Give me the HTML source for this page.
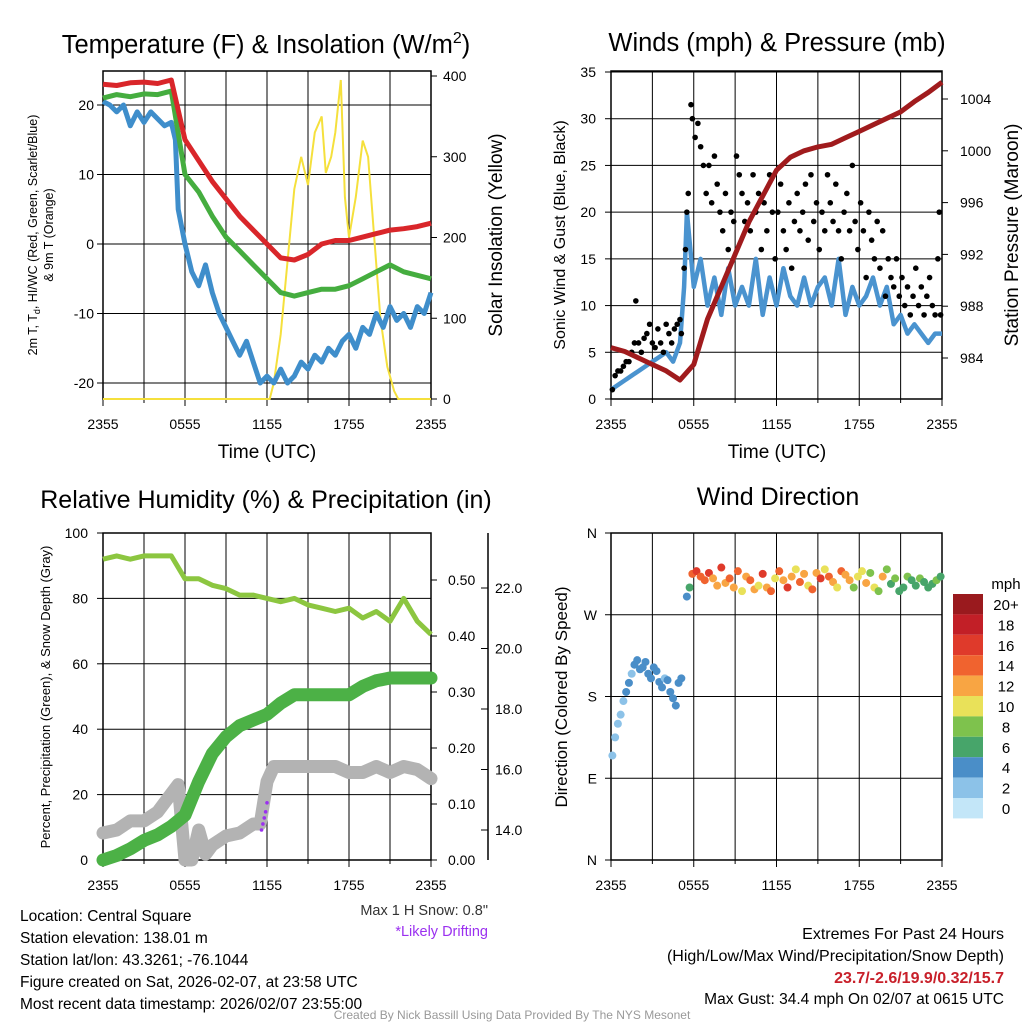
<!DOCTYPE html>
<html><head><meta charset="utf-8"><style>
body{margin:0;background:#fff;}
svg text{font-family:"Liberation Sans",Arial,sans-serif;}
</style></head><body>
<svg id="c" width="1024" height="1024" viewBox="0 0 1024 1024" xmlns="http://www.w3.org/2000/svg"></svg>
<script>
// ---------- DATA ----------
const hrs = [0,1,2,3,4,5,6,7,8,9,10,11,12,13,14,15,16,17,18,19,20,21,22,23,24];
const tempRed = [23,22.8,23.2,23.3,23.1,23.6,15,12,9,6.5,4,2,0,-2,-2.3,-1.5,0,0.5,0.5,1,1.5,2,2.2,2.5,3];
const tempGreen = [21,21.5,21.2,21.6,21.5,22,10,7.5,4,1,-1,-3,-5,-7,-7.5,-7,-6.5,-6.5,-6,-5,-4,-3,-4,-4.5,-5];
const halfHrs = [0,0.5,1,1.5,2,2.5,3,3.5,4,4.5,5,5.3,5.5,6,6.5,7,7.5,8,8.5,9,9.5,10,10.5,11,11.5,12,12.5,13,13.5,14,14.5,15,15.5,16,16.5,17,17.5,18,18.5,19,19.5,20,20.5,21,21.5,22,22.5,23,23.5,24];
const tempBlue = [20.5,20,19,20,17,19,17.5,19,18,17,17.5,15,5,0,-4,-6,-3,-7,-10,-12,-14,-16,-14,-17,-20,-19,-20,-18,-20,-19,-17,-18,-16,-17,-15,-16,-14,-13,-15,-12,-13,-10,-12,-9,-11,-10,-12,-9,-10,-7];
const solarHrs = [0,12.2,12.5,13,13.5,14,14.5,15,15.5,16,16.3,16.7,17,17.4,17.7,18,18.5,19,19.4,19.8,20.3,20.8,21.3,21.6,24];
const solar = [0,0,20,80,170,260,300,265,330,350,280,300,330,395,250,200,250,320,300,210,100,40,10,0,0];

const windBlue = [1,1.5,2,2.5,3,3.5,4,4.5,5,4,6,12,20,12,15,10,13,9,14,10,12,10,15,9,13,10,14,11,10,13,10,12,13,10,15,9,12,10,11,13,10,12,8,9,7,8,7,6,7,7];
const gustHrs = [0.1,0.3,0.5,0.7,0.9,1.1,1.3,1.5,1.7,1.8,2,2.2,2.4,2.6,2.8,3,3.2,3.4,3.6,3.8,4,4.2,4.4,4.6,4.8,5,5.1,5.3,5.4,5.5,5.6,5.8,5.9,6.1,6.3,6.5,6.7,6.9,7.1,7.3,7.5,7.7,7.9,8.1,8.3,8.5,8.7,8.9,9.1,9.3,9.5,9.7,9.9,10.1,10.3,10.5,10.7,10.9,11.1,11.3,11.5,11.7,11.9,12.1,12.3,12.5,12.7,12.9,13.1,13.3,13.5,13.7,13.9,14.1,14.3,14.5,14.7,14.9,15.1,15.3,15.5,15.7,15.9,16.1,16.3,16.5,16.7,16.9,17.1,17.3,17.5,17.7,17.9,18.1,18.3,18.5,18.7,18.9,19.1,19.3,19.5,19.7,19.9,20.1,20.3,20.5,20.7,20.9,21.1,21.3,21.5,21.7,21.9,22.1,22.3,22.5,22.7,22.9,23.1,23.3,23.5,23.7,23.8,23.9];
const gust = [1,2.5,3,3,3.5,4,4,5,6,10.5,6,5,6.5,7,8,6,5.5,7.5,6,5,8,7,6,7.5,8,8.5,7,14,16,20,22,31.5,30,28,29.5,27,25,22,25,21,26,23,20,18,22,16,20,19,26,24,22,19,21,18,24,20,22,16,21,18,24,20,15,20,23,18,16,21,14,19,22,18,20,23,17,24,19,21,16,20,18,24,21,19,23,18,15,20,22,18,25,19,16,21,18,13,20,17,15,19,14,18,11,15,13,12,15,11,13,10,12,9,11,14,10,12,9,11,13,10,9,15,20,9];
const pressure = [984.8,984.5,984,983.5,983,982.3,983.5,987,989.5,992,994.5,996.5,998.5,999.5,1000,1000.3,1000.5,1001,1001.5,1002,1002.5,1003,1003.8,1004.5,1005.3];

const rh = [92,93,92,93,93,93,86,86,84,83,81,81,80,79,80,78,77,76,77,74,76,73,80,73,69];
const precip = [0,0.008,0.02,0.035,0.045,0.06,0.08,0.14,0.19,0.22,0.24,0.25,0.26,0.28,0.295,0.295,0.295,0.295,0.295,0.31,0.32,0.325,0.325,0.325,0.325];
const snowHrs = [0,1,2,3,4,5,5.5,6,6.5,7,7.5,8,9,10,11,11.5,12,12.5,13,14,15,16,17,18,19,20,21,22,23,24];
const snow = [13.9,14,14.3,14.3,14.6,15.2,15.5,13,12.9,14,13.2,13.5,13.8,13.9,14.2,14.2,15.6,16.1,16.1,16.1,16.1,16.1,16.1,15.9,15.9,16.1,15.9,16.1,16,15.7];
const driftHrs = [11.6,11.7,11.8,11.9,12.0];
const drift = [14.0,14.2,14.4,14.6,14.9];

const dirHrs = [0.1,0.3,0.5,0.7,0.9,1.1,1.3,1.5,1.7,1.9,2.1,2.3,2.5,2.7,2.9,3.1,3.3,3.5,3.7,3.9,4.1,4.3,4.5,4.7,4.9,5.1,5.5,5.7,5.9,6.2,6.5,6.8,7.1,7.4,7.7,8.0,8.3,8.6,8.9,9.2,9.5,9.8,10.1,10.4,10.7,11.0,11.3,11.6,11.9,12.2,12.5,12.8,13.1,13.4,13.7,14.0,14.3,14.6,14.9,15.2,15.5,15.8,16.1,16.4,16.7,17.0,17.3,17.6,17.9,18.2,18.5,18.8,19.1,19.4,19.7,20.0,20.3,20.6,20.9,21.2,21.5,21.8,22.1,22.4,22.7,23.0,23.3,23.6,23.9];
const dirVals = [115,135,150,160,175,185,195,205,215,220,210,212,218,205,200,212,208,196,190,200,198,185,178,170,195,200,290,300,315,318,312,308,316,310,302,322,305,310,300,318,296,312,308,298,302,315,300,296,310,318,308,300,312,320,306,315,302,298,316,310,320,312,306,300,318,314,308,300,312,318,305,316,300,296,312,320,304,310,296,300,312,308,302,310,306,300,304,308,312];
const dirSpd = [2,2,2,3,3,4,4,3,4,5,4,4,5,4,5,4,4,5,4,3,4,4,5,5,4,5,5,6,14,16,15,14,17,12,13,16,12,15,13,14,10,12,15,12,11,16,13,14,10,15,12,16,13,11,14,12,10,15,13,16,11,14,12,10,15,13,12,9,11,10,12,9,10,8,12,9,7,8,6,7,8,7,6,8,7,6,7,8,6];

const cbLabels = ["20+","18","16","14","12","10","8","6","4","2","0"];
const cbColors = ["#9a1a1e","#c21f27","#df3a2b","#f0632f","#f8a543","#e9e159","#7ec24d","#47a56a","#4a8ec8","#8cc2e8","#c3e6f8"];

// ---------- HELPERS ----------
const svg = document.getElementById('c');
const NS = "http://www.w3.org/2000/svg";
function mk(tag, attrs, parent){const e=document.createElementNS(NS,tag);for(const k in attrs)e.setAttribute(k,attrs[k]);(parent||svg).appendChild(e);return e;}
function txt(x,y,s,size,anchor,extra){const e=mk('text',Object.assign({x:x,y:y,'font-size':size,'text-anchor':anchor||'middle',fill:'#000'},extra||{}));e.textContent=s;return e;}
function xs(p){return h=>p.x0+(p.x1-p.x0)*h/24;}
function lin(v0,y0,v1,y1){return v=>y0+(v-v0)*(y1-y0)/(v1-v0);}
function pathD(hs,vs,fx,fy){return hs.map((h,i)=>(i?'L':'M')+fx(h).toFixed(1)+','+fy(vs[i]).toFixed(1)).join(' ');}
const xlabels = ["2355","0555","1155","1755","2355"];

function frame(p, name){
  const g=mk('g',{});
  
  
  for(let k=1;k<8;k++){const x=p.x0+(p.x1-p.x0)*k/8;const l=mk('line',{x1:x,y1:p.y0,x2:x,y2:p.y1,stroke:'#000','stroke-width':1},g);}
  const r=mk('rect',{x:p.x0,y:p.y0,width:p.x1-p.x0,height:p.y1-p.y0,fill:'none',stroke:'#000','stroke-width':1.5},g);
  
  for(let k=0;k<=8;k++){const x=p.x0+(p.x1-p.x0)*k/8;mk('line',{x1:x,y1:p.y1,x2:x,y2:p.y1+(k%2?4:7),stroke:'#000'},g);}
  xlabels.forEach((s,i)=>{const t=txt(p.x0+(p.x1-p.x0)*i/4,p.y1+30,s,14);});
  return g;
}
function hgrid(p,vals,fy,labels,lx){
  vals.forEach((v,i)=>{const y=fy(v);
    const l=mk('line',{x1:p.x0,y1:y,x2:p.x1,y2:y,stroke:'#000','stroke-width':1});
    mk('line',{x1:p.x0-6,y1:y,x2:p.x0,y2:y,stroke:'#000'});
    const t=txt(lx,y+5,labels[i],14,'end');});
}

// ---------- PANEL 1 ----------
const P1={x0:103,x1:431,y0:71,y1:399};
const x1f=xs(P1), y1f=lin(0,244,20,105), s1f=lin(0,399,400,76);
frame(P1,'temperature-panel');
hgrid(P1,[-20,-10,0,10,20],y1f,["-20","-10","0","10","20"],94);
[0,100,200,300,400].forEach(v=>{mk('line',{x1:P1.x1,y1:s1f(v),x2:P1.x1+6,y2:s1f(v),stroke:'#000'});const t=txt(P1.x1+12,s1f(v)+5,String(v),14,'start');});
let e;
e=mk('path',{d:pathD(solarHrs,solar,x1f,s1f),fill:'none',stroke:'#f5e03c','stroke-width':2});
e=mk('path',{d:pathD(halfHrs,tempBlue,x1f,y1f),fill:'none',stroke:'#3f8ecb','stroke-width':5,'stroke-linejoin':'round'});
e=mk('path',{d:pathD(hrs,tempGreen,x1f,y1f),fill:'none',stroke:'#45ad3f','stroke-width':5,'stroke-linejoin':'round'});
e=mk('path',{d:pathD(hrs,tempRed,x1f,y1f),fill:'none',stroke:'#d9262a','stroke-width':5,'stroke-linejoin':'round'});
e=txt(266,53,'',25.5);e.innerHTML='Temperature (F) &amp; Insolation (W/m<tspan dy="-10" font-size="16">2</tspan><tspan dy="10">)</tspan>';
e=txt(267,458,'Time (UTC)',19);
e=mk('text',{transform:'translate(37,235) rotate(-90)','font-size':12.5,'text-anchor':'middle'});e.innerHTML='2m T, T<tspan dy="3" font-size="9">d</tspan><tspan dy="-3">, HI/WC (Red, Green, Scarlet/Blue)</tspan>';
e=txt(0,0,'& 9m T (Orange)',12.5,'middle',{transform:'translate(53,235) rotate(-90)'});
e=txt(0,0,'Solar Insolation (Yellow)',19,'middle',{transform:'translate(502,235) rotate(-90)'});

// ---------- PANEL 2 ----------
const P2={x0:611,x1:942,y0:71,y1:399};
const x2f=xs(P2), y2f=lin(0,399,35,72), p2f=lin(984,358,1004,99);
frame(P2,'wind-panel');
hgrid(P2,[0,5,10,15,20,25,30,35],y2f,["0","5","10","15","20","25","30","35"],596);
[984,988,992,996,1000,1004].forEach(v=>{mk('line',{x1:P2.x1,y1:p2f(v),x2:P2.x1+6,y2:p2f(v),stroke:'#000'});const t=txt(P2.x1+18,p2f(v)+5,String(v),14,'start');});
e=mk('path',{d:pathD(halfHrs,windBlue,x2f,y2f),fill:'none',stroke:'#4a93cf','stroke-width':4.5,'stroke-linejoin':'round'});
gustHrs.forEach((h,i)=>{const c=mk('circle',{cx:x2f(h),cy:y2f(gust[i]),r:2.8,fill:'#000'});});
e=mk('path',{d:pathD(hrs,pressure,x2f,p2f),fill:'none',stroke:'#a01b1d','stroke-width':5,'stroke-linejoin':'round'});
e=txt(777,51,'Winds (mph) & Pressure (mb)',25.5);
e=txt(777,458,'Time (UTC)',19);
e=txt(0,0,'Sonic Wind & Gust (Blue, Black)',16,'middle',{transform:'translate(565,235) rotate(-90)'});
e=txt(0,0,'Station Pressure (Maroon)',19,'middle',{transform:'translate(1018,235) rotate(-90)'});

// ---------- PANEL 3 ----------
const P3={x0:103,x1:431,y0:533,y1:860};
const x3f=xs(P3), y3f=lin(0,860,100,533), pr3f=lin(0,860,0.5,580), sn3f=lin(14,830,22,588);
frame(P3,'humidity-panel');
hgrid(P3,[0,20,40,60,80,100],y3f,["0","20","40","60","80","100"],88);
[0,0.1,0.2,0.3,0.4,0.5].forEach(v=>{mk('line',{x1:P3.x1,y1:pr3f(v),x2:P3.x1+6,y2:pr3f(v),stroke:'#000'});const t=txt(P3.x1+17,pr3f(v)+5,v.toFixed(2),14,'start');});
e=mk('line',{x1:488,y1:533,x2:488,y2:860,stroke:'#000','stroke-width':1.5});
[14,16,18,20,22].forEach(v=>{mk('line',{x1:481,y1:sn3f(v),x2:488,y2:sn3f(v),stroke:'#000'});const t=txt(495,sn3f(v)+5,v.toFixed(1),14,'start');});
e=mk('path',{d:pathD(snowHrs,snow,x3f,h=>Math.min(sn3f(h),860)),fill:'none',stroke:'#b3b3b3','stroke-width':13,'stroke-linejoin':'round','stroke-linecap':'round'});
e=mk('path',{d:pathD(hrs,precip,x3f,pr3f),fill:'none',stroke:'#4cb146','stroke-width':13,'stroke-linejoin':'round','stroke-linecap':'round'});
e=mk('path',{d:pathD(hrs,rh,x3f,y3f),fill:'none',stroke:'#8cc640','stroke-width':5,'stroke-linejoin':'round'});
driftHrs.forEach((h,i)=>{const c=mk('circle',{cx:x3f(h),cy:sn3f(drift[i]),r:1.8,fill:'#9b30f0'});});
e=txt(266,508,'Relative Humidity (%) & Precipitation (in)',25);
e=txt(0,0,'Percent, Precipitation (Green), & Snow Depth (Gray)',13,'middle',{transform:'translate(50,697) rotate(-90)'});

// ---------- PANEL 4 ----------
const P4={x0:611,x1:942,y0:533,y1:860};
const x4f=xs(P4), d4f=lin(0,860,360,533);
frame(P4,'wind-direction-panel');
hgrid(P4,[0,90,180,270,360],d4f,["N","E","S","W","N"],597);
function spdColor(s){return cbColors[10-Math.min(10,Math.floor(s/2))];}
dirHrs.forEach((h,i)=>{const c=mk('circle',{cx:x4f(h),cy:d4f(dirVals[i]),r:4,fill:spdColor(dirSpd[i])});});
e=txt(778,505,'Wind Direction',25);
e=txt(0,0,'Direction (Colored By Speed)',17,'middle',{transform:'translate(567,697) rotate(-90)'});
e=txt(1006,589,'mph',15);
cbLabels.forEach((s,i)=>{const y=594+i*20.4;const r=mk('rect',{x:953,y:y,width:30,height:20.4,fill:cbColors[i]});const t=txt(1006,y+16,s,15);});

// ---------- FOOTER ----------
const info=["Location: Central Square","Station elevation: 138.01 m","Station lat/lon: 43.3261; -76.1044","Figure created on Sat, 2026-02-07, at 23:58 UTC","Most recent data timestamp: 2026/02/07 23:55:00"];
info.forEach((s,i)=>{const t=txt(20,921+i*22,s,15.5,'start');});
e=txt(488,915,'Max 1 H Snow: 0.8"',14.5,'end',{fill:'#333'});
e=txt(488,936,'*Likely Drifting',14.5,'end',{fill:'#9b30f0'});
e=txt(1004,939,'Extremes For Past 24 Hours',16,'end');
e=txt(1004,961,'(High/Low/Max Wind/Precipitation/Snow Depth)',16,'end');
e=txt(1004,983,'23.7/-2.6/19.9/0.32/15.7',16,'end',{fill:'#c8202a','font-weight':'bold'});
e=txt(1004,1004,'Max Gust: 34.4 mph On 02/07 at 0615 UTC',15.5,'end');
e=txt(512,1019,'Created By Nick Bassill Using Data Provided By The NYS Mesonet',12,'middle',{fill:'#999'});
</script>
</body></html>
